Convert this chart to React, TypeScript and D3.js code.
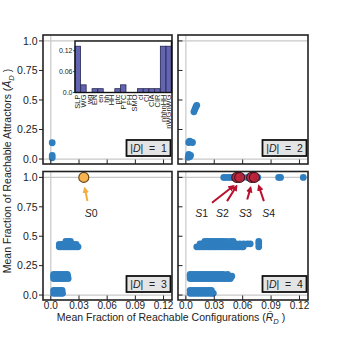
import React from "react";
import * as d3 from "d3";

// ---------- DATA ----------
const xTicks = [0, 0.03, 0.06, 0.09, 0.12];
const xTickLabels = ["0.0", "0.03", "0.06", "0.09", "0.12"];
const yTicks = [0, 0.25, 0.5, 0.75, 1.0];
const yTickLabels = ["0.0", "0.25", "0.5", "0.75", "1.0"];

const insetCategories = [
  "SLP", "WG", "wg", "EN", "en", "hh", "HH", "ptc", "PTC", "PH", "SMO",
  "ci", "CI", "CIA", "CIR", "nhhnHH", "nWGnWG",
];
const insetValues = [
  0.133, 0.022, 0, 0.011, 0.011, 0, 0, 0.011, 0.022, 0, 0,
  0.011, 0.011, 0.011, 0.011, 0.133, 0.133,
];
const insetTicks = [0, 0.06, 0.12];
const insetTickLabels = ["0.0", "0.06", "0.12"];

const panel1Points: [number, number][] = [
  [0.0015, 0.01], [0.0015, 0.03], [0.0015, 0.138],
];
const panel2Points: [number, number][] = [
  [0.0025, 0.015], [0.004, 0.02], [0.003, 0.04], [0.005, 0.03],
  [0.003, 0.14], [0.005, 0.145], [0.007, 0.14], [0.004, 0.152],
  [0.0085, 0.40], [0.0095, 0.42], [0.0105, 0.44], [0.0115, 0.455],
];

const p3LowRows: [number, number[]][] = [
  [0.015, [0.003, 0.0055, 0.008, 0.0105, 0.0125]],
  [0.04, [0.003, 0.0055, 0.008, 0.0105, 0.012]],
];
const p3MidRows: [number, number[]][] = [
  [0.14, [0.003, 0.0055, 0.008, 0.0105, 0.013, 0.0155, 0.0185]],
  [0.16, [0.003, 0.0055, 0.008, 0.0105, 0.013, 0.0155, 0.018]],
  [0.175, [0.003, 0.0055, 0.008, 0.0105, 0.013, 0.0155, 0.0175]],
];
const p3UpRows: [number, number[]][] = [
  [0.41, [0.009, 0.0115, 0.014, 0.0165, 0.019, 0.0215, 0.024, 0.0265, 0.029]],
  [0.43, [0.009, 0.0115, 0.014, 0.0165, 0.019, 0.0215, 0.024, 0.027]],
  [0.455, [0.016, 0.0185, 0.021]],
];
const s0Point: [number, number] = [0.0351, 1.0];

const p4LowRows: [number, number[]][] = [
  [0.015, [0.0045, 0.007, 0.0095, 0.012, 0.0145, 0.017, 0.0195, 0.022, 0.0245, 0.027, 0.029]],
  [0.04, [0.0045, 0.007, 0.0095, 0.012, 0.0145, 0.017, 0.0195, 0.022, 0.0245, 0.027]],
];
const p4MidRows: [number, number[]][] = [
  [0.14, [0.0045, 0.007, 0.0095, 0.012, 0.0145, 0.017, 0.0195, 0.022, 0.0245, 0.027, 0.0295, 0.032, 0.0345, 0.037, 0.0395, 0.042, 0.0445, 0.047]],
  [0.16, [0.0045, 0.007, 0.0095, 0.012, 0.0145, 0.017, 0.0195, 0.022, 0.0245, 0.027, 0.0295, 0.032, 0.0345, 0.037, 0.0395, 0.042, 0.0445, 0.0485]],
  [0.175, [0.0045, 0.007, 0.0095, 0.012, 0.0145, 0.017, 0.0195, 0.022, 0.0245, 0.027, 0.0295, 0.032, 0.0345, 0.037, 0.0395, 0.044]],
];
const p4UpRows: [number, number[]][] = [
  [0.41, [0.0115, 0.014, 0.0165, 0.019, 0.0215, 0.024, 0.0265, 0.029, 0.0315, 0.034, 0.0365, 0.039, 0.0415, 0.044, 0.0465, 0.049, 0.0515, 0.054, 0.0565, 0.059, 0.0605, 0.077]],
  [0.435, [0.015, 0.0175, 0.02, 0.0225, 0.025, 0.0275, 0.03, 0.0325, 0.035, 0.0375, 0.04, 0.0425, 0.045, 0.0475, 0.05, 0.053, 0.057, 0.061, 0.065, 0.068, 0.077]],
  [0.455, [0.02, 0.0225, 0.025, 0.0275, 0.03, 0.0325, 0.035, 0.0375, 0.04, 0.043, 0.047, 0.05, 0.077]],
];
const p4TopXs = [0.04, 0.042, 0.045, 0.047, 0.05, 0.06, 0.065, 0.074, 0.076, 0.098, 0.1, 0.124];

const specialNames = ["S1", "S2", "S3", "S4"];
const specialXs = [0.0538, 0.0568, 0.0694, 0.0724];
// arrow tail [x,y], head [x,y], label [x,y]
const specialTails: [number, number][] = [[0.0276, 0.784], [0.0435, 0.798], [0.0648, 0.812], [0.0824, 0.798]];
const specialHeads: [number, number][] = [[0.0499, 0.925], [0.0534, 0.925], [0.0683, 0.911], [0.0771, 0.925]];
const specialLabels: [number, number][] = [[0.0166, 0.665], [0.0385, 0.665], [0.063, 0.665], [0.0874, 0.665]];
const s0Tail: [number, number] = [0.039, 0.80];
const s0Head: [number, number] = [0.0362, 0.905];
const s0Label: [number, number] = [0.043, 0.665];

const panelSizes = ["1", "2", "3", "4"];

// ---------- LAYOUT ----------
const FONT = "'Liberation Sans', Arial, Helvetica, sans-serif";
const TXT = "#222";
const BLUE = "#2f7ebf";
const R = 3.4;

const rowsToPoints = (rows: [number, number[]][]) =>
  rows.flatMap(([y, xs]) => xs.map((x) => [x, y] as [number, number]));

const panelDefs = [
  { x0: 43, x1: 172, y0: 35, y1: 164, left: true, bottom: false },
  { x0: 178, x1: 308, y0: 35, y1: 164, left: false, bottom: false },
  { x0: 43, x1: 172, y0: 171.5, y1: 300, left: true, bottom: true },
  { x0: 178, x1: 308, y0: 171.5, y1: 300, left: false, bottom: true },
];

const panelPoints: [number, number][][] = [
  panel1Points,
  panel2Points,
  [...rowsToPoints(p3LowRows), ...rowsToPoints(p3MidRows), ...rowsToPoints(p3UpRows)],
  [
    ...rowsToPoints(p4LowRows),
    ...rowsToPoints(p4MidRows),
    ...rowsToPoints(p4UpRows),
    ...p4TopXs.map((x) => [x, 1.0] as [number, number]),
  ],
];

function Panel({ i }: { i: number }) {
  const p = panelDefs[i];
  const x = d3.scaleLinear().domain([-0.0083, 0.129]).range([p.x0, p.x1]);
  const y = d3.scaleLinear().domain([-0.042, 1.05]).range([p.y1, p.y0]);
  const pts = panelPoints[i];
  const clipId = `clip${i}`;
  return (
    <g>
      <defs>
        <clipPath id={clipId}>
          <rect x={p.x0} y={p.y0} width={p.x1 - p.x0} height={p.y1 - p.y0} />
        </clipPath>
      </defs>
      <rect x={p.x0} y={p.y0} width={p.x1 - p.x0} height={p.y1 - p.y0} fill="#fff" />
      <g clipPath={`url(#${clipId})`}>
        <line x1={p.x0} x2={p.x1} y1={y(0)} y2={y(0)} stroke="#c8c8c8" strokeWidth={1.2} />
        <line x1={p.x0} x2={p.x1} y1={y(1)} y2={y(1)} stroke="#c8c8c8" strokeWidth={1.2} />
        <line x1={x(0)} x2={x(0)} y1={p.y0} y2={p.y1} stroke="#c8c8c8" strokeWidth={1.2} />
        {pts.map(([px, py], k) => (
          <circle key={k} cx={x(px)} cy={y(py)} r={R} fill={BLUE} />
        ))}
        {i === 2 && (
          <g>
            <circle cx={x(s0Point[0])} cy={y(s0Point[1])} r={5} fill="#f6b54f" stroke="#6b4a1e" strokeWidth={1.2} />
            <line x1={x(s0Tail[0])} y1={y(s0Tail[1])} x2={x(s0Head[0])} y2={y(s0Head[1])}
              stroke="#f5ae3d" strokeWidth={2} markerEnd="url(#ahOrange)" />
            <text x={x(s0Label[0])} y={y(s0Label[1])} textAnchor="middle" fontSize={10.5} fill={TXT} fontFamily={FONT}>
              <tspan fontStyle="italic">S</tspan>0
            </text>
          </g>
        )}
        {i === 3 && (
          <g>
            {specialXs.map((sx, k) => (
              <circle key={k} cx={x(sx)} cy={y(1)} r={5} fill="#bf2138" fillOpacity={0.85} stroke="#4a1018" strokeWidth={1.1} />
            ))}
            {specialNames.map((nm, k) => (
              <g key={nm}>
                <line x1={x(specialTails[k][0])} y1={y(specialTails[k][1])}
                  x2={x(specialHeads[k][0])} y2={y(specialHeads[k][1])}
                  stroke="#b8102e" strokeWidth={2} markerEnd="url(#ahRed)" />
                <text x={x(specialLabels[k][0])} y={y(specialLabels[k][1])} textAnchor="middle"
                  fontSize={10.5} fill={TXT} fontFamily={FONT}>
                  <tspan fontStyle="italic">S</tspan>{nm.slice(1)}
                </text>
              </g>
            ))}
          </g>
        )}
      </g>
      <rect x={p.x0} y={p.y0} width={p.x1 - p.x0} height={p.y1 - p.y0} fill="none" stroke="#222" strokeWidth={1.6} />
      {xTicks.map((t, k) => (
        <line key={"bx" + k} x1={x(t)} x2={x(t)} y1={p.y1} y2={p.y1 - 4.5} stroke="#222" strokeWidth={1} />
      ))}
      {p.bottom && xTicks.map((t, k) => (
        <text key={"bl" + k} x={x(t)} y={308.5} textAnchor="middle" fontSize={10} fill={TXT} fontFamily={FONT}>
          {xTickLabels[k]}
        </text>
      ))}
      {yTicks.map((t, k) =>
        p.left ? (
          <line key={"ly" + k} x1={p.x0 - 4} x2={p.x0} y1={y(t)} y2={y(t)} stroke="#222" strokeWidth={1} />
        ) : (
          <line key={"ly" + k} x1={p.x0} x2={p.x0 + 4.5} y1={y(t)} y2={y(t)} stroke="#222" strokeWidth={1} />
        )
      )}
      {p.left && yTicks.map((t, k) => (
        <text key={"yl" + k} x={p.x0 - 5.5} y={y(t)} dy="0.36em" textAnchor="end" fontSize={10.5} fill={TXT} fontFamily={FONT}>
          {yTickLabels[k]}
        </text>
      ))}
      <rect x={p.x1 - 45.5} y={p.y1 - 24} width={44} height={16} fill="#e4e4e4" stroke="#111" strokeWidth={1.8} />
      <text x={p.x1 - 23.5} y={p.y1 - 12} textAnchor="middle" fontSize={10.5} fill={TXT} fontFamily={FONT} style={{ whiteSpace: "pre" }}>
        |<tspan fontStyle="italic">D</tspan>{"|  =  " + panelSizes[i]}
      </text>
    </g>
  );
}

function Inset() {
  const x0 = 75, x1 = 171.5, y0 = 41, y1 = 92.5;
  const x = d3.scaleBand<string>().domain(insetCategories).range([x0, x1]).paddingInner(0.04);
  const y = d3.scaleLinear().domain([0, 0.148]).range([y1, y0]);
  return (
    <g>
      <rect x={x0} y={y0} width={x1 - x0} height={y1 - y0} fill="#fff" />
      {insetCategories.map((c, k) => (
        <rect key={c} x={x(c)!} y={y(insetValues[k])} width={x.bandwidth()}
          height={Math.max(0, y(0) - y(insetValues[k]))} fill="#6465b0" stroke="#252555" strokeWidth={0.8} />
      ))}
      <rect x={x0} y={y0} width={x1 - x0} height={y1 - y0} fill="none" stroke="#111" strokeWidth={1.4} />
      {insetTicks.map((t, k) => (
        <g key={k}>
          <line x1={x0 - 2} x2={x0} y1={y(t)} y2={y(t)} stroke="#222" strokeWidth={0.8} />
          <text x={x0 - 2.5} y={y(t)} dy="0.36em" textAnchor="end" fontSize={7} fill={TXT} fontFamily={FONT}>
            {insetTickLabels[k]}
          </text>
        </g>
      ))}
      {insetCategories.map((c) => (
        <text key={"l" + c} transform={`translate(${x(c)! + x.bandwidth() / 2},${y1 + 2}) rotate(-90)`}
          textAnchor="end" dy="0.35em" fontSize={7.5} fill={TXT} fontFamily={FONT}>
          {c}
        </text>
      ))}
    </g>
  );
}

export default function App() {
  return (
    <svg width={343} height={345} style={{ position: "absolute", left: 0, top: 0, background: "#fff" }}>
      <defs>
        <marker id="ahOrange" viewBox="0 0 10 10" refX={7} refY={5} markerWidth={6.5} markerHeight={6.5}
          orient="auto" markerUnits="userSpaceOnUse">
          <path d="M0,0 L10,5 L0,10 z" fill="#f5ae3d" />
        </marker>
        <marker id="ahRed" viewBox="0 0 10 10" refX={7} refY={5} markerWidth={6.5} markerHeight={6.5}
          orient="auto" markerUnits="userSpaceOnUse">
          <path d="M0,0 L10,5 L0,10 z" fill="#b8102e" />
        </marker>
      </defs>
      <rect x={0} y={0} width={343} height={345} fill="#fff" />
      {panelDefs.map((_, i) => (
        <Panel key={i} i={i} />
      ))}
      <Inset />
      <text transform="translate(11,171) rotate(-90)" textAnchor="middle" fontSize={10.5} fill={TXT} fontFamily={FONT}>
        Mean Fraction of Reachable Attractors (<tspan fontStyle="italic">Ā</tspan>
        <tspan fontSize={7.5} dy="2.5" fontStyle="italic">D</tspan><tspan dy="-2.5"> )</tspan>
      </text>
      <text x={171} y={321} textAnchor="middle" fontSize={10.5} fill={TXT} fontFamily={FONT}>
        Mean Fraction of Reachable Configurations (<tspan fontStyle="italic">R̄</tspan>
        <tspan fontSize={7.5} dy="2.5" fontStyle="italic">D</tspan><tspan dy="-2.5"> )</tspan>
      </text>
    </svg>
  );
}
